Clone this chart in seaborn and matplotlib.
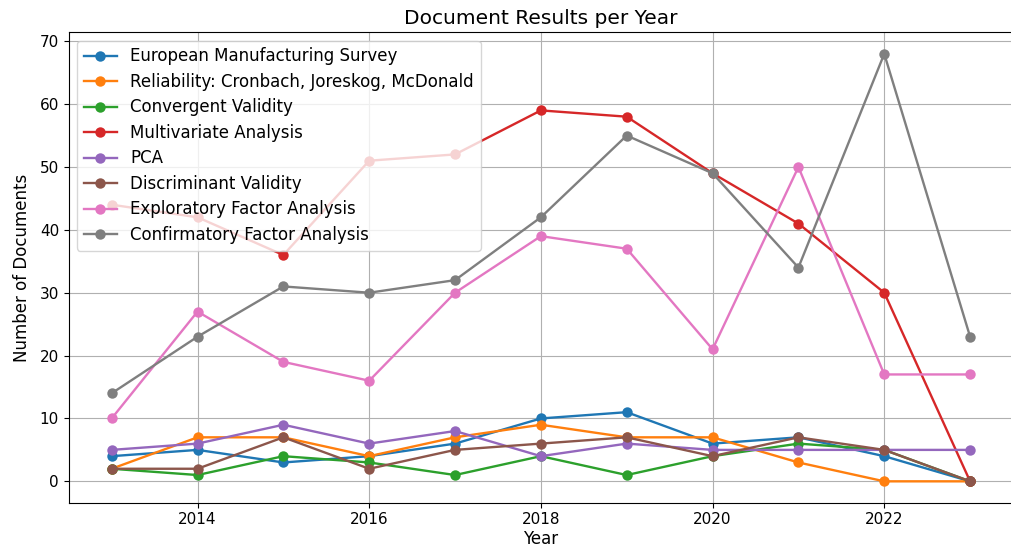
import matplotlib
matplotlib.use("Agg")
import matplotlib.pyplot as plt
import seaborn as sns
import pandas as pd

years = [2013, 2014, 2015, 2016, 2017, 2018, 2019, 2020, 2021, 2022, 2023]
european_manufacturing_survey = [4, 5, 3, 4, 6, 10, 11, 6, 7, 4, 0]
reliability = [2, 7, 7, 4, 7, 9, 7, 7, 3, 0, 0]
convergent_validity = [2, 1, 4, 3, 1, 4, 1, 4, 6, 5, 0]
multivariate_analysis = [44, 42, 36, 51, 52, 59, 58, 49, 41, 30, 0]
pca = [5, 6, 9, 6, 8, 4, 6, 5, 5, 5, 5]
discriminant_validity = [2, 2, 7, 2, 5, 6, 7, 4, 7, 5, 0]
exploratory_factor_analysis = [10, 27, 19, 16, 30, 39, 37, 21, 50, 17, 17]
confirmatory_factor_analysis = [14, 23, 31, 30, 32, 42, 55, 49, 34, 68, 23]

series_names = [
    "European Manufacturing Survey",
    "Reliability: Cronbach, Joreskog, McDonald",
    "Convergent Validity",
    "Multivariate Analysis",
    "PCA",
    "Discriminant Validity",
    "Exploratory Factor Analysis",
    "Confirmatory Factor Analysis",
]
series_values = [
    european_manufacturing_survey,
    reliability,
    convergent_validity,
    multivariate_analysis,
    pca,
    discriminant_validity,
    exploratory_factor_analysis,
    confirmatory_factor_analysis,
]

rows = []
for name, vals in zip(series_names, series_values):
    for y, v in zip(years, vals):
        rows.append({"Year": y, "Number of Documents": v, "Series": name})
df = pd.DataFrame(rows)

fig = plt.figure(figsize=(10.11, 5.5), dpi=100)
ax = fig.add_axes([0.068, 0.086, 0.934, 0.855])
sns.lineplot(data=df, x="Year", y="Number of Documents", hue="Series",
             hue_order=series_names, palette="tab10", marker="o",
             markersize=7.5, markeredgewidth=0, linewidth=1.7, ax=ax)
ax.grid(True)
ax.set_title("Document Results per Year", fontsize=14.5)
ax.set_xlabel("Year", fontsize=12, labelpad=2)
ax.set_ylabel("Number of Documents", fontsize=12, labelpad=6)
ax.tick_params(labelsize=11)
leg = ax.legend(loc="upper left", fontsize=12, framealpha=0.8, labelspacing=0.45)
fig.savefig("out.png", dpi=100)
